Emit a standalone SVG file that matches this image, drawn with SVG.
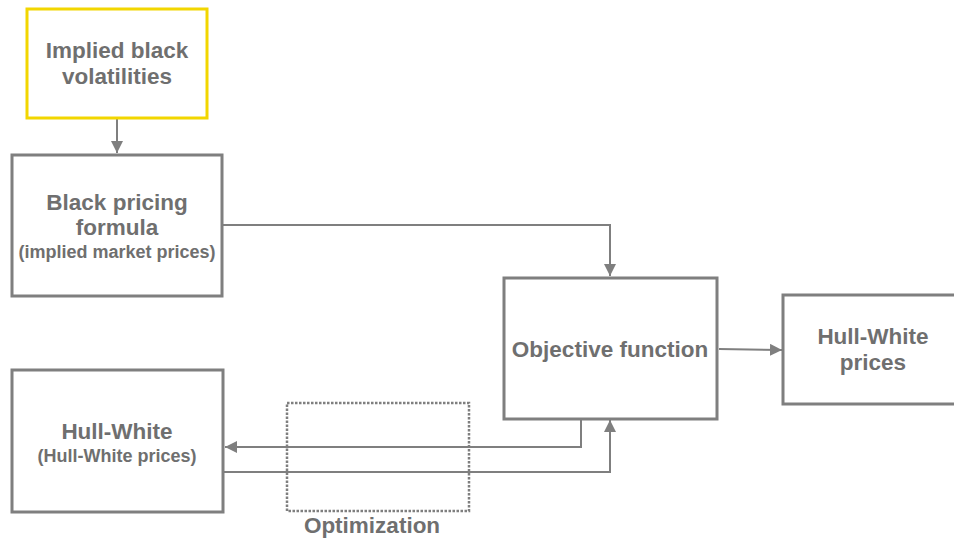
<svg xmlns="http://www.w3.org/2000/svg" width="954" height="538" viewBox="0 0 954 538">
<defs>
<marker id="arr" viewBox="0 0 10 10" refX="10" refY="5" markerWidth="12" markerHeight="12" markerUnits="userSpaceOnUse" orient="auto">
<path d="M0,0 L10,5 L0,10 z" fill="#7f7f7f"/>
</marker>
<style>
.box{fill:#fff;stroke:#7f7f7f;stroke-width:3}
.yel{fill:#fff;stroke:#f2d600;stroke-width:3}
.t{font-family:"Liberation Sans",Arial,sans-serif;font-weight:bold;fill:#6f6f6f;text-anchor:middle}
.big{font-size:22.5px}
.small{font-size:18px}
.c{fill:none;stroke:#7f7f7f;stroke-width:2}
</style>
</defs>
<g id="optimization">
<rect x="287" y="403" width="182" height="108" fill="none" stroke="#7f7f7f" stroke-width="2.5" stroke-dasharray="2.5,1.5"/>
<text class="t big" x="372" y="533">Optimization</text>
</g>
<g id="connectors">
<line class="c" x1="117" y1="119" x2="117" y2="153" marker-end="url(#arr)"/>
<polyline class="c" points="223,225 610,225 610,276" marker-end="url(#arr)"/>
<line class="c" x1="719" y1="349" x2="782" y2="350" marker-end="url(#arr)"/>
<polyline class="c" points="581,420 581,447 225,447" marker-end="url(#arr)"/>
<polyline class="c" points="224,472 610,472 610,420" marker-end="url(#arr)"/>
</g>
<g id="implied">
<rect class="yel" x="27" y="9" width="180" height="109"/>
<text class="t big" x="117" y="58">Implied black</text>
<text class="t big" x="117" y="84">volatilities</text>
</g>
<g id="black">
<rect class="box" x="12" y="155" width="210" height="141"/>
<text class="t big" x="117" y="210">Black pricing</text>
<text class="t big" x="117" y="235">formula</text>
<text class="t small" x="117" y="258">(implied market prices)</text>
</g>
<g id="objective">
<rect class="box" x="504" y="278" width="213" height="141"/>
<text class="t big" x="610" y="357">Objective function</text>
</g>
<g id="hwprices">
<rect class="box" x="783" y="295" width="180" height="109"/>
<text class="t big" x="873" y="344">Hull-White</text>
<text class="t big" x="873" y="370">prices</text>
</g>
<g id="hullwhite">
<rect class="box" x="12" y="370" width="211" height="142"/>
<text class="t big" x="117" y="439">Hull-White</text>
<text class="t small" x="117" y="462">(Hull-White prices)</text>
</g>
</svg>
